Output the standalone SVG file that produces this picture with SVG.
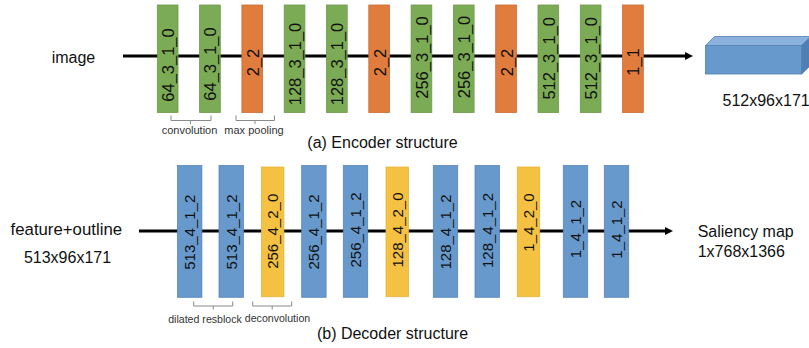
<svg xmlns="http://www.w3.org/2000/svg" width="809" height="348" viewBox="0 0 809 348">
<style>
text{font-family:"Liberation Sans",Arial,sans-serif;fill:#111}
.g{fill:#7CAB55;stroke:#6E9A4A;stroke-width:0.8}
.o{fill:#E07C3E;stroke:#C96C33;stroke-width:0.8}
.b{fill:#6899CD;stroke:#5885B8;stroke-width:0.8}
.y{fill:#F5C142;stroke:#E6B33A;stroke-width:0.8}
.el{font-size:16.5px;text-anchor:middle}
.dl{font-size:15px;text-anchor:middle}
.lab{font-size:16px}
.sm{font-size:10.6px;text-anchor:middle;fill:#333}
.br{fill:none;stroke:#8A8A8A;stroke-width:1}
.ln{stroke:#000;stroke-width:3;fill:none}
</style>
<defs>
<marker id="ah" markerWidth="10" markerHeight="10" refX="2" refY="4" orient="auto" markerUnits="userSpaceOnUse">
<path d="M0,0 L8,4 L0,8 Z" fill="#000"/>
</marker>
</defs>
<g id="connectors">
<line class="ln" x1="123" y1="56" x2="687" y2="56" marker-end="url(#ah)"/>
<line class="ln" x1="139" y1="231" x2="667" y2="231" marker-end="url(#ah)"/>
</g>
<g id="encoder">
<g id="e1"><rect class="g" x="157.3" y="5" width="20.7" height="107.5"/><text class="el" transform="translate(174.1,65) rotate(-90)">64_3_1_0</text></g>
<g id="e2"><rect class="g" x="199.6" y="5" width="20.7" height="107.5"/><text class="el" transform="translate(216.4,64) rotate(-90)">64_3_1_0</text></g>
<g id="e3"><rect class="o" x="241.9" y="5" width="20.7" height="107.5"/><text class="el" transform="translate(258.7,62.5) rotate(-90)">2_2</text></g>
<g id="e4"><rect class="g" x="284.2" y="5" width="20.7" height="107.5"/><text class="el" transform="translate(301,64) rotate(-90)">128_3_1_0</text></g>
<g id="e5"><rect class="g" x="326.5" y="5" width="20.7" height="107.5"/><text class="el" transform="translate(343.3,64) rotate(-90)">128_3_1_0</text></g>
<g id="e6"><rect class="o" x="368.8" y="5" width="20.7" height="107.5"/><text class="el" transform="translate(385.6,62.5) rotate(-90)">2_2</text></g>
<g id="e7"><rect class="g" x="411.1" y="5" width="20.7" height="107.5"/><text class="el" transform="translate(427.9,57.5) rotate(-90)">256_3_1_0</text></g>
<g id="e8"><rect class="g" x="453.4" y="5" width="20.7" height="107.5"/><text class="el" transform="translate(470.2,57) rotate(-90)">256_3_1_0</text></g>
<g id="e9"><rect class="o" x="495.7" y="5" width="20.7" height="107.5"/><text class="el" transform="translate(512.5,62.5) rotate(-90)">2_2</text></g>
<g id="e10"><rect class="g" x="538" y="5" width="20.7" height="107.5"/><text class="el" transform="translate(554.8,58.3) rotate(-90)">512_3_1_0</text></g>
<g id="e11"><rect class="g" x="580.3" y="5" width="20.7" height="107.5"/><text class="el" transform="translate(597.1,58.3) rotate(-90)">512_3_1_0</text></g>
<g id="e12"><rect class="o" x="622.6" y="5" width="20.7" height="107.5"/><text class="el" transform="translate(639.4,62) rotate(-90)">1_1</text></g>
</g>
<g id="feature-block">
<rect x="705.5" y="45.5" width="96.2" height="28.5" fill="#6899CD" stroke="#4F7FB3" stroke-width="0.8"/>
<polygon points="705.5,45.5 714.5,36.5 811,36.5 801.7,45.5" fill="#8AB2DC" stroke="#4F7FB3" stroke-width="0.8"/>
<polygon points="801.7,45.5 811,36.5 811,65 801.7,74" fill="#4F7FB3" stroke="#4F7FB3" stroke-width="0.8"/>
</g>
<g id="enc-labels">
<text class="lab" x="51.7" y="63">image</text>
<text class="lab" x="722.5" y="106">512x96x171</text>
<path class="br" d="M171,115.5 V120.5 H211 V115.5 M190.5,120.5 V124"/>
<text class="sm" x="189.5" y="134" style="font-size:11px">convolution</text>
<path class="br" d="M236,115.5 V120.5 H274.5 V115.5 M255,120.5 V124"/>
<text class="sm" x="254" y="134" style="font-size:11px">max pooling</text>
<text class="lab" x="382.5" y="148" text-anchor="middle">(a) Encoder structure</text>
</g>
<g id="decoder">
<g id="d1"><rect class="b" x="177.5" y="165.5" width="24.4" height="131.8"/><text class="dl" transform="translate(195,232.2) rotate(-90)">513_4_1_2</text></g>
<g id="d2"><rect class="b" x="219" y="165.5" width="24.4" height="131.8"/><text class="dl" transform="translate(236.5,232) rotate(-90)">513_4_1_2</text></g>
<g id="d3"><rect class="y" x="261.5" y="167" width="22.4" height="129.7"/><text class="dl" transform="translate(278.2,231.3) rotate(-90)">256_4_2_0</text></g>
<g id="d4"><rect class="b" x="301.7" y="165.5" width="24.4" height="131.8"/><text class="dl" transform="translate(319.2,232) rotate(-90)">256_4_1_2</text></g>
<g id="d5"><rect class="b" x="343.3" y="165.5" width="24.4" height="131.8"/><text class="dl" transform="translate(360.8,230) rotate(-90)">256_4_1_2</text></g>
<g id="d6"><rect class="y" x="386" y="167" width="22.4" height="129.7"/><text class="dl" transform="translate(402.7,230) rotate(-90)">128_4_2_0</text></g>
<g id="d7"><rect class="b" x="433.3" y="165.5" width="24.4" height="131.8"/><text class="dl" transform="translate(450.8,232) rotate(-90)">128_4_1_2</text></g>
<g id="d8"><rect class="b" x="475" y="165.5" width="24.4" height="131.8"/><text class="dl" transform="translate(492.5,230.5) rotate(-90)">128_4_1_2</text></g>
<g id="d9"><rect class="y" x="517.3" y="167" width="22.4" height="129.7"/><text class="dl" transform="translate(534,222.5) rotate(-90)">1_4_2_0</text></g>
<g id="d10"><rect class="b" x="563.3" y="165.5" width="24.4" height="131.8"/><text class="dl" transform="translate(580.8,229) rotate(-90)">1_4_1_2</text></g>
<g id="d11"><rect class="b" x="604.3" y="165.5" width="24.4" height="131.8"/><text class="dl" transform="translate(621.8,229.5) rotate(-90)">1_4_1_2</text></g>
</g>
<g id="dec-labels">
<text class="lab" x="66.3" y="235" text-anchor="middle" style="font-size:16.8px">feature+outline</text>
<text class="lab" x="67.5" y="263" text-anchor="middle">513x96x171</text>
<text class="lab" x="697.7" y="237">Saliency map</text>
<text class="lab" x="697.7" y="256.7">1x768x1366</text>
<path class="br" d="M193.7,301.5 V306 H232.7 V301.5 M213.2,306 V309.5"/>
<text class="sm" x="205" y="323">dilated resblock</text>
<path class="br" d="M252.7,301.5 V306 H291.7 V301.5 M272.2,306 V309.5"/>
<text class="sm" x="277.5" y="321.7">deconvolution</text>
<text class="lab" x="392.5" y="339" text-anchor="middle">(b) Decoder structure</text>
</g>
</svg>
